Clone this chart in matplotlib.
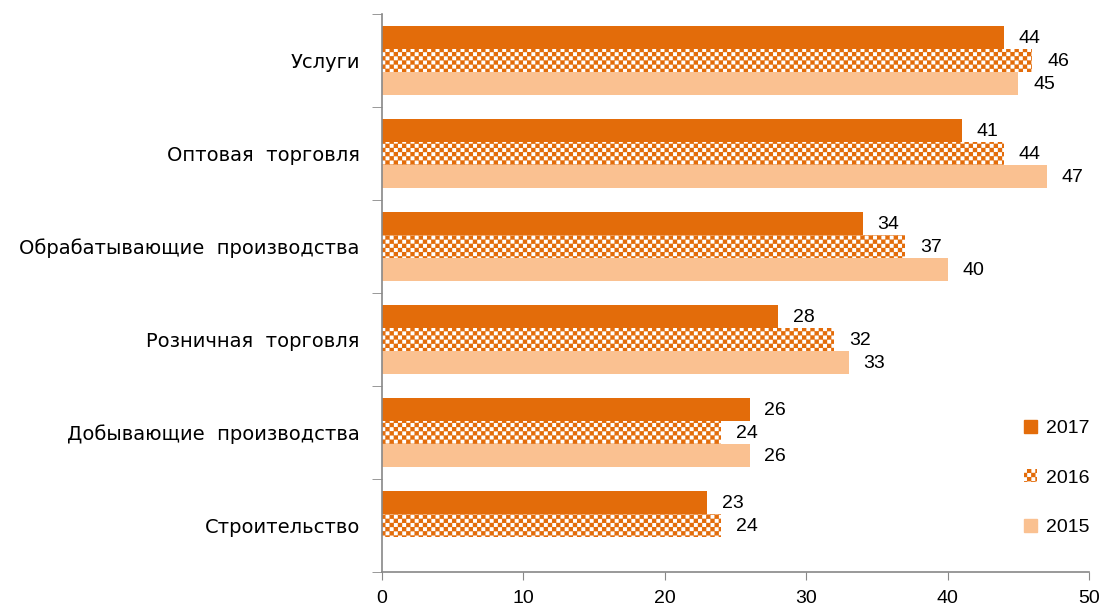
import warnings
warnings.filterwarnings("ignore")
import numpy as np
import matplotlib
matplotlib.use("Agg")
import matplotlib.pyplot as plt
import matplotlib.hatch as mhatch
from matplotlib.path import Path
from matplotlib.patches import Patch

# ---- data ----
categories = ["Строительство", "Добывающие  производства", "Розничная  торговля",
              "Обрабатывающие  производства", "Оптовая  торговля", "Услуги"]
years = ["2017", "2016", "2015"]
v2017 = [23, 26, 28, 34, 41, 44]
v2016 = [24, 24, 32, 37, 44, 46]
v2015 = [None, 26, 33, 40, 47, 45]
xticks = [0, 10, 20, 30, 40, 50]

c2017 = "#E36C0A"
c2015 = "#FAC191"


class SquareDots(mhatch.HatchPatternBase):
    """Staggered small filled squares (Excel-like checker pattern)."""
    filled = True

    def __init__(self, hatch, density):
        self.n = hatch.count('s') * density
        n = self.n
        self.unit = Path.unit_rectangle()
        if n:
            nshapes = (n + 1) * (n + 1) + n * n
            self.num_vertices = nshapes * len(self.unit.vertices)
        else:
            self.num_vertices = 0

    def set_vertices_and_codes(self, vertices, codes):
        n = self.n
        side = 0.36 / n
        sv = (self.unit.vertices - 0.5) * side
        sc = self.unit.codes
        vparts, cparts = [], []
        for row in range(2 * n + 1):
            ypos = row / (2.0 * n)
            if row % 2 == 0:
                cols = np.arange(n + 1) / n
            else:
                cols = (np.arange(n) + 0.5) / n
            for xpos in cols:
                vparts.append(sv + [xpos, ypos])
                cparts.append(sc)
        np.concatenate(vparts, out=vertices)
        np.concatenate(cparts, out=codes)


mhatch._hatch_types.append(SquareDots)
HATCH = "ss"

fig = plt.figure(figsize=(11.05, 6.08), dpi=100)
ax = fig.add_axes([0.3457, 0.0592, 0.9855 - 0.3457, 0.977 - 0.0592])

y = np.arange(len(categories))
h = 0.25
series = [(v2017, dict(color=c2017), 0.25),
          (v2016, dict(facecolor="white", edgecolor=c2017, hatch=HATCH, linewidth=0), 0.0),
          (v2015, dict(color=c2015), -0.25)]

num_font = dict(family="Liberation Sans", size=14)
for vals, style, off in series:
    for yi, v in zip(y, vals):
        if v is None:
            continue
        ax.barh(yi + off, v, height=h, **style)
        ax.text(v + 1.05, yi + off - 0.01, str(v), va="center", ha="left", **num_font)

ax.set_xlim(0, 50)
ax.set_ylim(-0.5, len(categories) - 0.5)
ax.set_xticks(xticks)
ax.set_xticklabels([str(t) for t in xticks], **num_font)
ax.set_yticks(y)
ax.set_yticklabels(categories, family="DejaVu Sans", size=14)
ax.tick_params(axis="y", length=0, pad=16)
ax.set_yticks(np.arange(-0.5, len(categories), 1), minor=True)
ax.tick_params(axis="y", which="minor", length=7, color="#888888", direction="out")
ax.tick_params(axis="x", length=6, color="#888888", pad=7)
for s in ["top", "right"]:
    ax.spines[s].set_visible(False)
for s in ["left", "bottom"]:
    ax.spines[s].set_color("#888888")
    ax.spines[s].set_linewidth(1.2)

handles = [Patch(color=c2017),
           Patch(facecolor="white", edgecolor=c2017, hatch=HATCH, linewidth=0),
           Patch(color=c2015)]
ax.legend(handles, years, loc="lower right", bbox_to_anchor=(1.025, 0.033),
          frameon=False, prop=dict(family="Liberation Sans", size=14),
          handlelength=0.65, handleheight=0.65, labelspacing=1.65, handletextpad=0.45)

fig.savefig("out.png", dpi=100)
